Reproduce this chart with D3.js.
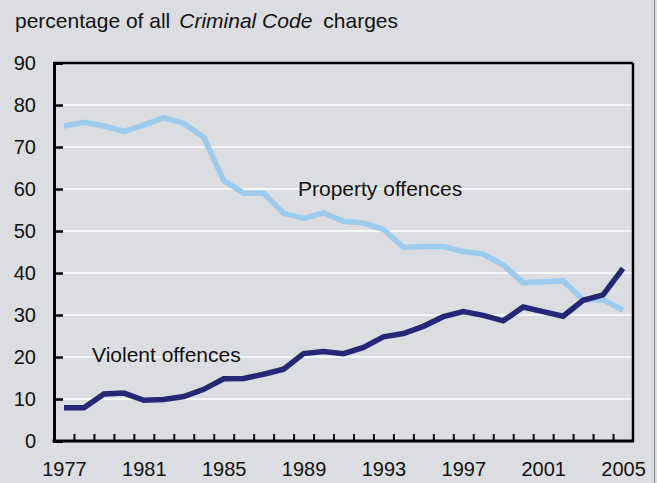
<!DOCTYPE html>
<html>
<head>
<meta charset="utf-8">
<script src="https://cdn.jsdelivr.net/npm/d3@7"></script>
<style>
  html, body { margin: 0; padding: 0; background: #dcdde0; }
  svg { display: block; }
  text { font-family: "Liberation Sans", Arial, Helvetica, sans-serif; fill: #111; }
</style>
</head>
<body>
<svg id="chart" width="657" height="483"></svg>
<script>
const years = d3.range(1977, 2006);
const propertyValues = [75.0, 75.9, 75.0, 73.7, 75.2, 77.0, 75.6, 72.3, 62.0, 59.0,
  59.0, 54.2, 53.0, 54.3, 52.3, 51.9, 50.4, 46.1, 46.3, 46.3,
  45.1, 44.5, 41.9, 37.7, 37.9, 38.1, 33.7, 33.6, 31.2];
const violentValues = [7.9, 7.9, 11.2, 11.4, 9.7, 9.9, 10.6, 12.3, 14.8, 14.9,
  15.9, 17.1, 20.8, 21.3, 20.8, 22.3, 24.8, 25.6, 27.3, 29.6,
  30.8, 29.9, 28.6, 31.9, 30.8, 29.7, 33.5, 34.8, 41.1];
const yTicks = [0, 10, 20, 30, 40, 50, 60, 70, 80, 90];
const xTickLabels = [1977, 1981, 1985, 1989, 1993, 1997, 2001, 2005];
const gridValues = [10, 20, 30, 40, 50, 60, 70, 80];

(function () {
const svg = d3.select("#chart");
const pLeft = 54, pRight = 633, pTop = 63, pBottom = 441;

const x = d3.scaleLinear().domain([1976.5, 2005.5]).range([pLeft, pRight]);
const y = d3.scaleLinear().domain([0, 90]).range([pBottom, pTop]);

svg.append("rect").attr("width", 657).attr("height", 483).attr("fill", "#dcdde0");
svg.append("line").attr("x1", 654.5).attr("x2", 654.5).attr("y1", 0).attr("y2", 483)
  .attr("stroke", "#8a8b8e").attr("stroke-width", 1);

// title
const title = svg.append("text").attr("x", 15).attr("y", 28).style("font-size", "21px");
title.append("tspan").text("percentage of all");
title.append("tspan").attr("dx", 9).attr("font-style", "italic").text("Criminal Code");
title.append("tspan").attr("dx", 11).text("charges");

// gridlines
svg.append("g").selectAll("line").data(gridValues).join("line")
  .attr("x1", pLeft).attr("x2", pRight)
  .attr("y1", d => y(d)).attr("y2", d => y(d))
  .attr("stroke", "#ffffff").attr("stroke-width", 1.5);

// frame top & right
svg.append("line").attr("x1", pLeft).attr("x2", pRight).attr("y1", pTop).attr("y2", pTop)
  .attr("stroke", "#000").attr("stroke-width", 2.5);
svg.append("line").attr("x1", pRight).attr("x2", pRight).attr("y1", pTop).attr("y2", pBottom)
  .attr("stroke", "#000").attr("stroke-width", 2.5);

// y axis
const yAxis = svg.append("g").attr("transform", `translate(${pLeft},0)`)
  .call(d3.axisLeft(y).tickValues(yTicks).tickSize(-9).tickPadding(18).tickFormat(d3.format("d")));
yAxis.select(".domain").attr("stroke", "#000").attr("stroke-width", 3);
yAxis.selectAll(".tick line").attr("stroke", "#000").attr("stroke-width", 2.5);
yAxis.selectAll(".tick text").style("font-size", "20px").attr("fill", "#111")
  .style("font-family", "'Liberation Sans', Arial, sans-serif");

// x axis minor ticks
const halfYears = d3.range(1977.5, 2005, 1);
const xTickAxis = svg.append("g").attr("transform", `translate(0,${pBottom})`)
  .call(d3.axisBottom(x).tickValues(halfYears).tickSize(-7).tickFormat(""));
xTickAxis.select(".domain").remove();
xTickAxis.selectAll(".tick line").attr("stroke", "#000").attr("stroke-width", 2);

// x axis labels
const xAxis = svg.append("g").attr("transform", `translate(0,${pBottom})`)
  .call(d3.axisBottom(x).tickValues(xTickLabels).tickSize(0).tickPadding(21).tickFormat(d3.format("d")));
xAxis.select(".domain").remove();
xAxis.selectAll(".tick text").style("font-size", "20px").attr("fill", "#111")
  .style("font-family", "'Liberation Sans', Arial, sans-serif");

// bottom axis line
svg.append("line").attr("x1", pLeft - 1.5).attr("x2", pRight + 1).attr("y1", pBottom).attr("y2", pBottom)
  .attr("stroke", "#000").attr("stroke-width", 3);

// lines
const line = d3.line().x((d, i) => x(years[i])).y(d => y(d));
svg.append("path").datum(propertyValues).attr("d", line)
  .attr("fill", "none").attr("stroke", "#9ccbee").attr("stroke-width", 5.5)
  .attr("stroke-linejoin", "miter");
svg.append("path").datum(violentValues).attr("d", line)
  .attr("fill", "none").attr("stroke", "#262877").attr("stroke-width", 5.5)
  .attr("stroke-linejoin", "miter");

// series labels
svg.append("text").attr("x", 298).attr("y", 196).style("font-size", "21px").text("Property offences");
svg.append("text").attr("x", 92).attr("y", 362).style("font-size", "21px").text("Violent offences");
})();
</script>
</body>
</html>
